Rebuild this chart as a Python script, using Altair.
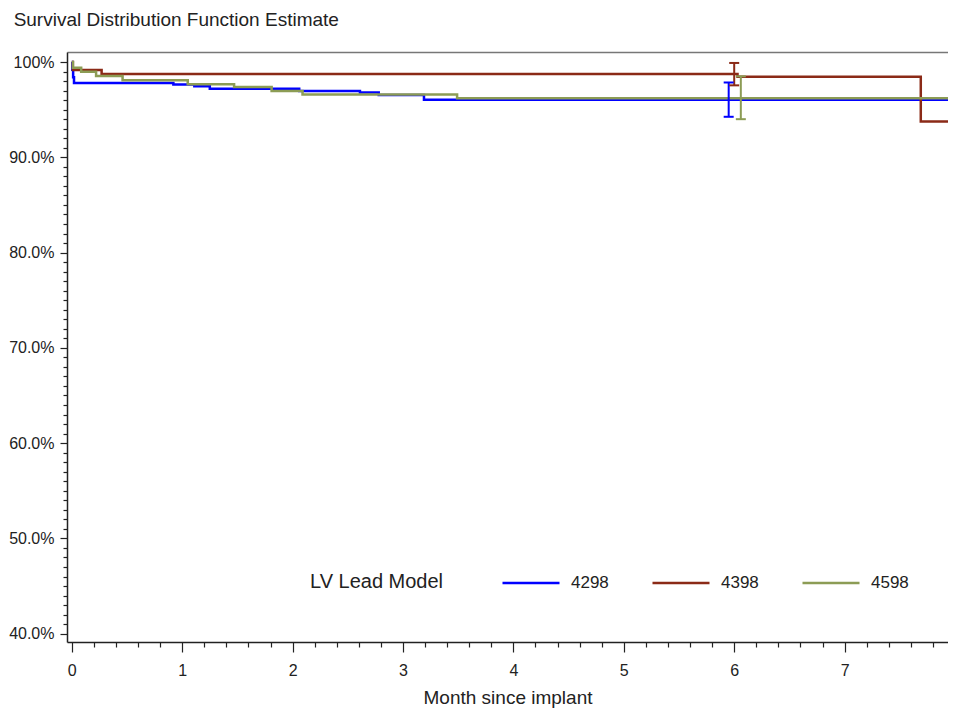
import altair as alt
import pandas as pd

models = ["4298", "4398", "4598"]
colors = ["#0000FF", "#8B2A17", "#8C9C55"]

# Kaplan-Meier step curves (months, survival %)
t_4298 = [0, 0.005, 0.012, 0.02, 0.92, 1.11, 1.25, 2.06, 2.61, 2.78, 3.19, 7.97]
s_4298 = [100, 99.2, 98.4, 97.8, 97.65, 97.45, 97.2, 96.95, 96.8, 96.55, 96.05, 96.05]

t_4398 = [0, 0.01, 0.27, 6.03, 7.69, 8.1]
s_4398 = [100, 99.15, 98.75, 98.45, 93.75, 93.75]

t_4598 = [0, 0.01, 0.085, 0.22, 0.46, 1.05, 1.47, 1.81, 2.09, 3.49, 7.97]
s_4598 = [100, 99.4, 98.98, 98.53, 98.08, 97.66, 97.38, 96.96, 96.6, 96.2, 96.2]

# confidence bars at 6 months
err_model = ["4298", "4398", "4598"]
err_t = [5.95, 6.0, 6.06]
err_lo = [94.25, 97.55, 94.0]
err_hi = [97.85, 99.9, 98.5]

x_ticks = [round(i * 0.2, 1) for i in range(0, 41)]
y_ticks = list(range(40, 101))

rows = []
for m, ts, ss in [("4298", t_4298, s_4298), ("4398", t_4398, s_4398), ("4598", t_4598, s_4598)]:
    for t, s in zip(ts, ss):
        rows.append({"model": m, "t": t, "s": s})
df = pd.DataFrame(rows)
err_df = pd.DataFrame({"model": err_model, "t": err_t, "lo": err_lo, "hi": err_hi})

FONT = "Liberation Sans"
INK = "#222222"

PLOT_W = 881
PX_PER_MONTH = 110.4
x_min = -0.0435
xscale = alt.Scale(domain=[x_min, x_min + PLOT_W / PX_PER_MONTH], nice=False, zero=False)
yscale = alt.Scale(domain=[39.13, 101.05], nice=False, zero=False)
cscale = alt.Scale(domain=models, range=colors)

is_major_x = "abs(datum.value - round(datum.value)) < 0.001"
xaxis = alt.Axis(
    values=x_ticks,
    tickCount=200,
    orient="bottom",
    title="Month since implant",
    titleFontSize=19,
    titleFontWeight="normal",
    titlePadding=10,
    tickSize={"condition": {"test": is_major_x, "value": 10}, "value": 5},
    labelExpr=f"{is_major_x} ? format(datum.value, 'd') : ''",
    labelOverlap=False,
    labelFlush=False,
    labelPadding=10,
    labelFontSize=16,
    grid=False,
)
top_axis = alt.Axis(
    orient="top",
    title=None,
    labels=False,
    ticks=False,
    grid=False,
    domainColor="#777777",
    domainWidth=1.5,
)
is_major_y = "datum.value % 10 == 0"
yaxis = alt.Axis(
    values=y_ticks,
    tickCount=200,
    orient="left",
    title=None,
    tickSize={"condition": {"test": is_major_y, "value": 7}, "value": 4},
    labelExpr=f"datum.value == 100 ? '100%' : ({is_major_y} ? format(datum.value, '.1f') + '%' : '')",
    labelOverlap=False,
    labelFlush=False,
    labelPadding=6,
    labelFontSize=16,
    grid=False,
)

legend = alt.Legend(
    title="LV Lead Model",
    orient="none",
    legendX=243,
    legendY=501,
    direction="horizontal",
    titleOrient="left",
    titleBaseline="top",
    titleFontSize=20,
    titleFontWeight="normal",
    titlePadding=57,
    symbolType="stroke",
    symbolSize=3250,
    symbolStrokeWidth=2.5,
    labelFontSize=17,
    labelOffset=10,
    columnPadding=38,
)

lines = alt.Chart(df).mark_line(interpolate="step-after", strokeWidth=2.5, clip=True).encode(
    x=alt.X("t:Q", scale=xscale, axis=xaxis),
    y=alt.Y("s:Q", scale=yscale, axis=yaxis),
    color=alt.Color("model:N", scale=cscale, legend=legend),
)

frame_top = alt.Chart(df).mark_point(opacity=0).encode(
    x=alt.X("t:Q", scale=xscale, axis=top_axis),
    y=alt.Y("s:Q", scale=yscale, axis=yaxis),
)

bars = alt.Chart(err_df).mark_rule(strokeWidth=2).encode(
    x=alt.X("t:Q", scale=xscale, axis=None),
    y=alt.Y("lo:Q", scale=yscale, axis=yaxis),
    y2="hi:Q",
    color=alt.Color("model:N", scale=cscale, legend=None),
)
cap_hi = alt.Chart(err_df).mark_rule(strokeWidth=2, xOffset=-5, x2Offset=5).encode(
    x=alt.X("t:Q", scale=xscale, axis=None),
    x2=alt.X2("t"),
    y=alt.Y("hi:Q", scale=yscale, axis=yaxis),
    color=alt.Color("model:N", scale=cscale, legend=None),
)
cap_lo = alt.Chart(err_df).mark_rule(strokeWidth=2, xOffset=-5, x2Offset=5).encode(
    x=alt.X("t:Q", scale=xscale, axis=None),
    x2=alt.X2("t"),
    y=alt.Y("lo:Q", scale=yscale, axis=yaxis),
    color=alt.Color("model:N", scale=cscale, legend=None),
)

chart = (
    alt.layer(lines, frame_top, bars, cap_hi, cap_lo)
    .resolve_axis(x="independent")
    .properties(
        width=PLOT_W,
        height=590,
        autosize=alt.AutoSizeParams(type="none"),
        padding={"left": 59, "top": 44, "right": 0, "bottom": 67},
        title=alt.TitleParams(
            "Survival Distribution Function Estimate",
            anchor="start",
            dx=5,
            fontSize=19,
            fontWeight="normal",
            font=FONT,
            color=INK,
            offset=22,
        ),
    )
    .configure(font=FONT)
    .configure_view(strokeWidth=0)
    .configure_axis(
        domainColor=INK,
        domainWidth=1.5,
        tickColor=INK,
        tickWidth=1.2,
        labelColor=INK,
        titleColor=INK,
        labelFont=FONT,
        titleFont=FONT,
    )
    .configure_legend(labelFont=FONT, titleFont=FONT, labelColor=INK, titleColor=INK)
)

chart.save("out.html", embed_options={"renderer": "svg", "actions": False})
